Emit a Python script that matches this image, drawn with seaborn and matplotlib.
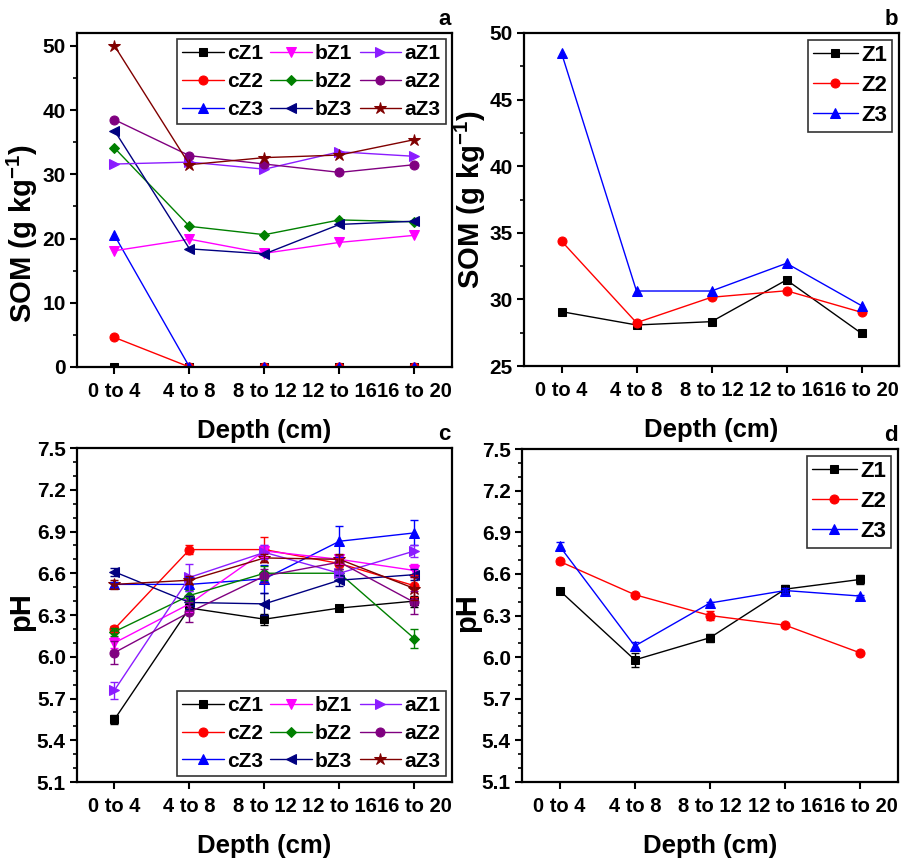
import numpy as np
import pandas as pd
import matplotlib
matplotlib.use("Agg")
import matplotlib.pyplot as plt
import seaborn as sns

# ---------------- data ----------------
depths = ["0 to 4", "4 to 8", "8 to 12", "12 to 16", "16 to 20"]

# panel a: SOM per plot (g kg-1)
som_cZ1 = [0.0, 0.0, 0.0, 0.0, 0.0]
som_cZ2 = [4.6, 0.0, 0.0, 0.0, 0.0]
som_cZ3 = [20.5, 0.0, 0.0, 0.0, 0.0]
som_bZ1 = [18.1, 19.9, 17.7, 19.4, 20.5]
som_bZ2 = [34.1, 21.9, 20.6, 22.9, 22.6]
som_bZ3 = [36.8, 18.4, 17.6, 22.2, 22.7]
som_aZ1 = [31.6, 31.9, 30.8, 33.5, 32.8]
som_aZ2 = [38.5, 32.9, 31.6, 30.3, 31.5]
som_aZ3 = [50.0, 31.5, 32.6, 33.0, 35.4]

# panel b: mean SOM per zone
somz_Z1 = [29.08, 28.08, 28.33, 31.46, 27.45]
somz_Z2 = [34.38, 28.25, 30.16, 30.65, 29.03]
somz_Z3 = [48.5, 30.63, 30.63, 32.71, 29.53]

# panel c: pH per plot (mean, error)
ph_cZ1 = [5.55, 6.35, 6.27, 6.35, 6.40]
ph_cZ2 = [6.20, 6.77, 6.77, 6.67, 6.51]
ph_cZ3 = [6.52, 6.52, 6.56, 6.83, 6.89]
ph_bZ1 = [6.10, 6.38, 6.76, 6.70, 6.62]
ph_bZ2 = [6.18, 6.44, 6.60, 6.60, 6.13]
ph_bZ3 = [6.61, 6.39, 6.38, 6.55, 6.59]
ph_aZ1 = [5.76, 6.57, 6.75, 6.60, 6.76]
ph_aZ2 = [6.03, 6.32, 6.58, 6.68, 6.39]
ph_aZ3 = [6.52, 6.55, 6.71, 6.70, 6.49]
err_cZ1 = [0.03, 0.03, 0.04, 0.02, 0.04]
err_cZ2 = [0.02, 0.03, 0.09, 0.04, 0.08]
err_cZ3 = [0.02, 0.05, 0.10, 0.11, 0.09]
err_bZ1 = [0.04, 0.06, 0.04, 0.03, 0.05]
err_bZ2 = [0.03, 0.04, 0.05, 0.03, 0.07]
err_bZ3 = [0.03, 0.05, 0.08, 0.04, 0.04]
err_aZ1 = [0.06, 0.10, 0.05, 0.03, 0.04]
err_aZ2 = [0.08, 0.07, 0.05, 0.05, 0.08]
err_aZ3 = [0.03, 0.03, 0.03, 0.04, 0.08]

# panel d: mean pH per zone
phz_Z1 = [6.48, 5.98, 6.14, 6.49, 6.56]
phz_Z2 = [6.69, 6.45, 6.30, 6.23, 6.03]
phz_Z3 = [6.80, 6.08, 6.39, 6.48, 6.44]
errz_Z1 = [0.01, 0.05, 0.03, 0.03, 0.03]
errz_Z2 = [0.02, 0.01, 0.03, 0.01, 0.01]
errz_Z3 = [0.03, 0.03, 0.01, 0.02, 0.01]

plot_names = ["cZ1", "cZ2", "cZ3", "bZ1", "bZ2", "bZ3", "aZ1", "aZ2", "aZ3"]
zone_names = ["Z1", "Z2", "Z3"]

# ---------------- style ----------------
sns.set_theme(style="ticks")
plt.rcParams["font.family"] = ["Liberation Sans", "DejaVu Sans"]
plt.rcParams["font.weight"] = "bold"
plt.rcParams["axes.labelweight"] = "bold"
plt.rcParams["text.color"] = "black"
plt.rcParams["axes.labelcolor"] = "black"
plt.rcParams["xtick.color"] = "black"
plt.rcParams["ytick.color"] = "black"
plt.rcParams["mathtext.fontset"] = "custom"
plt.rcParams["mathtext.rm"] = "Liberation Sans:bold"
plt.rcParams["mathtext.bf"] = "Liberation Sans:bold"
plt.rcParams["mathtext.it"] = "Liberation Sans:bold"

styles = {
    "cZ1": ("black", "s", 6),
    "cZ2": ("#FF0000", "o", 6.5),
    "cZ3": ("#0000FF", "^", 7),
    "bZ1": ("#FF00FF", "v", 7),
    "bZ2": ("#008000", "D", 5.5),
    "bZ3": ("#000080", "<", 7),
    "aZ1": ("#8B1CFF", ">", 7),
    "aZ2": ("#800080", "o", 6.5),
    "aZ3": ("#800000", "*", 9),
    "Z1": ("black", "s", 6),
    "Z2": ("#FF0000", "o", 6.5),
    "Z3": ("#0000FF", "^", 7),
}

pos = {d: i for i, d in enumerate(depths)}


def draw(ax, series, names, errs=None):
    for name, vals in zip(names, series):
        col, mk, ms = styles[name]
        df = pd.DataFrame({"x": [pos[d] for d in depths], "y": vals})
        sns.lineplot(data=df, x="x", y="y", ax=ax, color=col, marker=mk,
                     markersize=ms, markeredgecolor=col, linewidth=1.0,
                     label=name, sort=False)
    if errs is not None:
        for name, vals, e in zip(names, series, errs):
            col = styles[name][0]
            ax.errorbar([pos[d] for d in depths], vals, yerr=e, fmt="none",
                        ecolor=col, elinewidth=1.0, capsize=3, capthick=1.0)


fig = plt.figure(figsize=(9.04, 8.58), dpi=100)
W, H = 904, 858


def mk_ax(l, t, r, b):
    return fig.add_axes([l / W, 1 - b / H, (r - l) / W, (b - t) / H])


ax_a = mk_ax(77, 33, 452, 367)
ax_b = mk_ax(524, 33, 899, 366)
ax_c = mk_ax(77, 448, 452, 782)
ax_d = mk_ax(522, 449, 898, 782)

draw(ax_a, [som_cZ1, som_cZ2, som_cZ3, som_bZ1, som_bZ2, som_bZ3,
            som_aZ1, som_aZ2, som_aZ3], plot_names)
draw(ax_b, [somz_Z1, somz_Z2, somz_Z3], zone_names)
draw(ax_c, [ph_cZ1, ph_cZ2, ph_cZ3, ph_bZ1, ph_bZ2, ph_bZ3,
            ph_aZ1, ph_aZ2, ph_aZ3], plot_names,
     [err_cZ1, err_cZ2, err_cZ3, err_bZ1, err_bZ2, err_bZ3,
      err_aZ1, err_aZ2, err_aZ3])
draw(ax_d, [phz_Z1, phz_Z2, phz_Z3], zone_names, [errz_Z1, errz_Z2, errz_Z3])

som_label = r"SOM (g kg$^{-1}$)"
# ax, ylim, yticks, minor step, ylabel, ylabel anchor (axes frac), letter, fmt
cfg = [
    (ax_a, (0, 52), np.arange(0, 51, 10), 5, som_label, (-0.099, 0.40), "a", "{:.0f}"),
    (ax_b, (25, 50), np.arange(25, 51, 5), 2.5, som_label, (-0.096, 0.50), "b", "{:.0f}"),
    (ax_c, (5.1, 7.5), np.arange(5.1, 7.51, 0.3), 0.1, "pH", (-0.112, 0.51), "c", "{:.1f}"),
    (ax_d, (5.1, 7.5), np.arange(5.1, 7.51, 0.3), 0.1, "pH", (-0.109, 0.51), "d", "{:.1f}"),
]
for ax, ylim, yt, minor, ylab, ylpos, letter, fmt in cfg:
    ax.set_xlim(-0.5, 4.5)
    ax.set_ylim(*ylim)
    ax.set_xticks(range(len(depths)))
    ax.set_xticklabels(depths)
    ax.set_yticks(yt)
    ax.set_yticklabels([fmt.format(v) for v in yt])
    ax.yaxis.set_minor_locator(matplotlib.ticker.MultipleLocator(minor))
    ax.tick_params(axis="both", which="major", direction="out", length=5,
                   width=1.5, labelsize=15, pad=3, colors="black")
    ax.tick_params(axis="x", which="major", labelsize=14.5, pad=5.5)
    ax.tick_params(axis="y", which="minor", direction="out", length=3, width=1.2)
    ax.tick_params(axis="x", which="minor", length=0)
    for t in ax.get_xticklabels() + ax.get_yticklabels():
        t.set_fontweight("bold")
    for s in ax.spines.values():
        s.set_visible(True)
        s.set_color("black")
        s.set_linewidth(1.6)
    ax.set_xlabel("Depth (cm)", fontsize=18.5, fontweight="bold", labelpad=13)
    ax.set_ylabel(ylab, fontsize=21, fontweight="bold")
    ax.yaxis.set_label_coords(*ylpos)
    ax.text(0.98, 1.04, letter, transform=ax.transAxes, ha="center",
            va="center", fontsize=16, fontweight="bold")

leg3 = dict(frameon=True, fancybox=False, edgecolor="black",
            prop={"weight": "bold", "size": 15}, handlelength=2.0,
            borderpad=0.25, labelspacing=0.42, handletextpad=0.15,
            columnspacing=0.35, borderaxespad=0.3)
leg1 = dict(frameon=True, fancybox=False, edgecolor="black",
            prop={"weight": "bold", "size": 16}, handlelength=2.0,
            borderpad=0.25, labelspacing=0.4, handletextpad=0.15,
            borderaxespad=0.3)
la = ax_a.legend(ncol=3, loc="upper right", **leg3)
lc = ax_c.legend(ncol=3, loc="lower right", **leg3)
lb = ax_b.legend(ncol=1, loc="upper right", **leg1)
ld = ax_d.legend(ncol=1, loc="upper right", **leg1)
for lg in (la, lb, lc, ld):
    lg.get_frame().set_linewidth(1.2)

fig.savefig("out.png", dpi=100)
